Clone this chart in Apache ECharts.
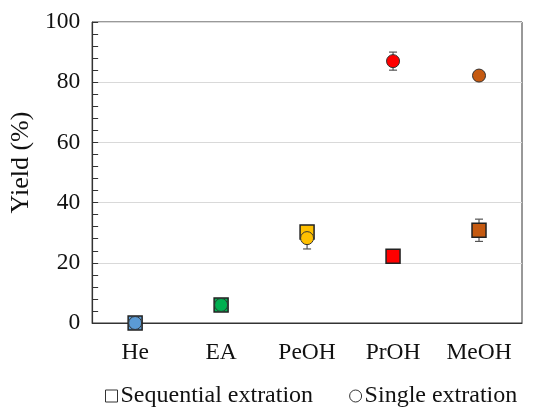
<!DOCTYPE html>
<html>
<head>
<meta charset="utf-8">
<script src="https://cdn.jsdelivr.net/npm/echarts@6/dist/echarts.min.js"></script>
<style>html,body{margin:0;padding:0;background:#fff;}#c{width:544px;height:407px;}</style>
</head>
<body>
<div id="c"></div>
<script>
var categories = ['He', 'EA', 'PeOH', 'PrOH', 'MeOH'];
var pointColors = ['#5b9bd5', '#00b050', '#ffc000', '#ff0000', '#c55a11'];
var sequentialValues = [0, 6, 30.2, 22.2, 30.8];
var sequentialErr = [0, 0, 0, 0, 3.7];
var singleValues = [0, 6, 28.2, 87, 82.2];
var singleErr = [0, 0, 3.6, 3, 0];
var yTicks = [0, 20, 40, 60, 80, 100];

var font = '"Liberation Serif", "Times New Roman", serif';

function pts(vals) {
  return vals.map(function (v, i) {
    return { value: [i, v], itemStyle: { color: pointColors[i] } };
  });
}
function errData(vals, errs) {
  var out = [];
  for (var i = 0; i < vals.length; i++) {
    if (errs[i] > 0) out.push([i, vals[i] - errs[i], vals[i] + errs[i]]);
  }
  return out;
}
var allErr = errData(sequentialValues, sequentialErr).concat(errData(singleValues, singleErr));

var chart = echarts.init(document.getElementById('c'), null, { renderer: 'canvas' });
chart.setOption({
  animation: false,
  backgroundColor: '#fff',
  grid: { left: 90, right: 22, top: 22, bottom: 84, show: true, borderColor: '#333', borderWidth: 1 },
  xAxis: {
    type: 'category',
    data: categories,
    boundaryGap: true,
    axisLine: { lineStyle: { color: '#333', width: 1.2 } },
    axisTick: { inside: true, alignWithLabel: true, length: 5, lineStyle: { color: '#333' } },
    axisLabel: { fontFamily: font, fontSize: 23.5, color: '#111', margin: 18 }
  },
  yAxis: {
    type: 'value',
    min: yTicks[0],
    max: yTicks[yTicks.length - 1],
    interval: 20,
    name: 'Yield (%)',
    nameLocation: 'middle',
    nameGap: 57,
    nameTextStyle: { fontFamily: font, fontSize: 26, color: '#111', padding: [0, 0, 0, 20] },
    axisLine: { show: true, lineStyle: { color: '#333', width: 1.2 } },
    axisTick: { show: true, inside: true, length: 6, lineStyle: { color: '#333' } },
    minorTick: { show: true, splitNumber: 5, length: 6, lineStyle: { color: '#333' } },
    axisLabel: { fontFamily: font, fontSize: 23.5, color: '#111', margin: 12 },
    splitLine: { show: true, lineStyle: { color: '#d9d9d9', width: 1 } }
  },
  legend: {
    bottom: -6,
    left: 100,
    itemGap: 36,
    itemWidth: 12,
    itemHeight: 12,
    textStyle: { fontFamily: font, fontSize: 24, color: '#111', padding: [0, 0, 0, -2] },
    data: [
      { name: 'Sequential extration', icon: 'rect', itemStyle: { color: '#fff', borderColor: '#333', borderWidth: 1 } },
      { name: 'Single extration', icon: 'circle', itemStyle: { color: '#fff', borderColor: '#333', borderWidth: 1 } }
    ]
  },
  series: [
    {
      type: 'custom',
      name: 'err',
      z: 1,
      data: allErr,
      renderItem: function (params, api) {
        var x = api.value(0);
        var lo = api.coord([x, api.value(1)]);
        var hi = api.coord([x, api.value(2)]);
        var w = 4;
        var st = { stroke: '#555', lineWidth: 1.2 };
        return {
          type: 'group',
          children: [
            { type: 'line', shape: { x1: lo[0], y1: lo[1], x2: hi[0], y2: hi[1] }, style: st },
            { type: 'line', shape: { x1: lo[0] - w, y1: lo[1], x2: lo[0] + w, y2: lo[1] }, style: st },
            { type: 'line', shape: { x1: hi[0] - w, y1: hi[1], x2: hi[0] + w, y2: hi[1] }, style: st }
          ]
        };
      }
    },
    {
      type: 'scatter',
      name: 'Sequential extration',
      symbol: 'rect',
      symbolSize: 14,
      z: 2,
      itemStyle: { borderColor: '#222', borderWidth: 1.5, opacity: 1 },
      data: pts(sequentialValues)
    },
    {
      type: 'scatter',
      name: 'Single extration',
      symbol: 'circle',
      symbolSize: 13,
      z: 3,
      itemStyle: { borderColor: '#333', borderWidth: 1, opacity: 1 },
      data: pts(singleValues)
    }
  ]
});
</script>
</body>
</html>
